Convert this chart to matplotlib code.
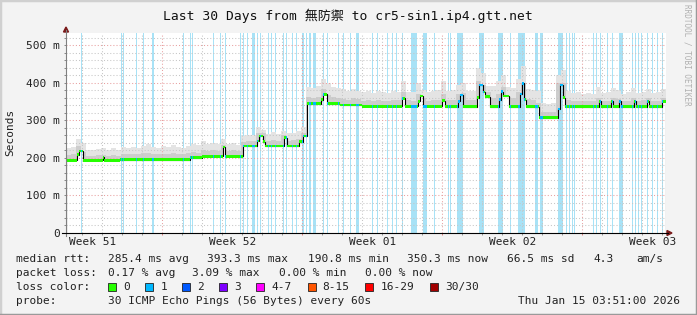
import numpy as np
import matplotlib
matplotlib.use("Agg")
import matplotlib.pyplot as plt
from matplotlib.patches import Polygon, Rectangle
from matplotlib.lines import Line2D
from matplotlib.transforms import blended_transform_factory

W, H = 697, 315
MONO = ["DejaVu Sans Mono", "Noto Sans CJK SC"]

# median rtt (ms), step levels starting at each day offset (0 = 30 days ago)
med_day = [0.0, 0.55, 0.65, 0.85, 1.835, 1.915, 2.7, 6.2, 6.785, 7.85, 7.95,
           8.835, 9.535, 9.65, 9.865, 9.95, 10.9, 11.035, 11.665, 11.825,
           12.025, 12.75, 12.85, 13.035, 13.7, 14.8, 16.785, 16.95, 17.6, 17.7,
           17.865, 18.785, 18.95, 19.6, 19.7, 19.85, 20.55, 20.65, 20.85, 20.95,
           21.2, 21.65, 21.75, 21.85, 22.125, 22.7, 22.775, 22.9, 23.0, 23.65,
           24.6, 24.7, 24.85, 24.95, 26.65, 26.75, 27.25, 27.35, 27.65, 27.75,
           28.4, 28.5, 29.05, 29.15, 29.8]
med_ms = [193, 208, 218, 193, 201, 193, 195.5, 200, 204, 229, 204,
          231, 245, 258, 243, 231, 254, 231, 243, 258,
          344, 355, 369, 344, 340, 337, 358, 337, 350, 364,
          337, 352, 336, 350, 367, 336, 360, 394, 375, 363,
          336, 355, 376, 364, 336, 370, 398, 355, 336, 307,
          330, 394, 360, 336, 350, 336, 350, 336, 350, 336,
          350, 336, 350, 336, 350]

# smoke (ms), one value per 6 hour bin
smoke_hi = [226, 228, 250, 240, 222, 220, 224, 225, 222, 226,
            222, 228, 225, 230, 227, 232, 238, 229, 226, 231,
            228, 233, 229, 227, 232, 236, 234, 245, 238, 240,
            237, 250, 236, 239, 235, 258, 262, 260, 283, 275,
            264, 268, 263, 272, 265, 267, 272, 282, 388, 385,
            390, 410, 398, 388, 386, 382, 378, 384, 379, 374,
            377, 372, 378, 375, 373, 379, 376, 405, 376, 374,
            398, 380, 374, 377, 380, 405, 378, 380, 395, 400,
            378, 377, 440, 425, 392, 390, 405, 420, 388, 386,
            410, 445, 383, 380, 378, 345, 343, 346, 420, 434,
            378, 372, 375, 370, 373, 371, 388, 372, 374, 386,
            380, 371, 374, 385, 372, 376, 384, 373, 375, 382]
smoke_mid = [208, 210, 232, 215, 206, 205, 207, 208, 206, 208,
             206, 210, 209, 211, 210, 212, 214, 210, 209, 211,
             210, 212, 210, 209, 212, 215, 214, 222, 219, 220,
             219, 235, 219, 220, 218, 243, 245, 244, 265, 265,
             246, 248, 245, 262, 246, 247, 251, 266, 362, 360,
             363, 382, 368, 362, 360, 357, 355, 358, 356, 352,
             353, 351, 354, 352, 351, 354, 353, 375, 353, 352,
             370, 360, 352, 353, 355, 370, 354, 355, 370, 372,
             354, 353, 405, 395, 375, 360, 370, 388, 362, 358,
             375, 400, 357, 355, 345, 322, 321, 322, 398, 400,
             354, 351, 352, 350, 351, 350, 360, 351, 352, 360,
             356, 350, 352, 360, 351, 353, 359, 351, 352, 360]

# days with packet loss (start, length in days)
loss_day = [0.725, 2.725, 2.825, 3.5, 3.825, 4.275, 5.825, 6.175, 6.275, 7.325,
            7.675, 7.95, 8.675, 8.85, 9.025, 9.275, 9.525, 9.675, 10.075, 10.25,
            10.45, 10.825, 11.0, 11.3, 11.5, 11.8, 12.0, 12.165, 12.365, 12.835,
            13.065, 13.615, 13.835, 14.2, 14.5, 15.285, 15.565, 16.035, 16.285, 16.5,
            16.785, 17.235, 17.835, 18.4, 19.115, 19.2, 19.535, 20.665, 21.615, 22.2,
            22.615, 23.45, 23.7, 24.615, 24.985, 25.165, 25.285, 25.4, 26.335, 26.5,
            26.7, 27.065, 27.285, 27.665, 28.285, 28.45, 28.615, 28.75, 29.065, 29.285,
            29.535, 29.785]
loss_len = [0.05, 0.05, 0.05, 0.05, 0.05, 0.1, 0.05, 0.05, 0.05, 0.05,
            0.05, 0.05, 0.05, 0.05, 0.05, 0.15, 0.05, 0.05, 0.05, 0.05,
            0.05, 0.05, 0.05, 0.05, 0.05, 0.1, 0.05, 0.075, 0.15, 0.05,
            0.05, 0.05, 0.05, 0.05, 0.15, 0.05, 0.05, 0.05, 0.05, 0.05,
            0.05, 0.3, 0.225, 0.05, 0.05, 0.05, 0.3, 0.235, 0.225, 0.05,
            0.325, 0.165, 0.135, 0.25, 0.05, 0.05, 0.05, 0.05, 0.05, 0.05,
            0.05, 0.05, 0.05, 0.2, 0.05, 0.05, 0.05, 0.05, 0.05, 0.05,
            0.05, 0.085]

week_labels = ["Week 51", "Week 52", "Week 01", "Week 02", "Week 03"]
week_label_day = [1.315, 8.315, 15.315, 22.315, 29.315]
week_start_day = [4.8, 11.8, 18.8, 25.8]

rtt_stats = ["285.4 ms avg", "393.3 ms max", "190.8 ms min", "350.3 ms now", "66.5 ms sd", "4.3", "am/s"]
loss_stats = ["0.17 % avg", "3.09 % max", "0.00 % min", "0.00 % now"]
loss_names = ["0", "1", "2", "3", "4-7", "8-15", "16-29", "30/30"]
loss_colors = ["#26ff00", "#00b8ff", "#0059ff", "#7e00ff", "#ff00ff", "#ff5500", "#ff0000", "#a10000"]

YMAX = 532
LOSS_BG = "#a8e2f6"


def fx(x):
    return x / W


def fy(y):
    return 1 - y / H


def med_at(t):
    i = np.searchsorted(med_day, t, side="right") - 1
    return np.asarray(med_ms, dtype=float)[i]


def med_pieces(a, b):
    e = np.array(med_day + [30.0])
    e = np.union1d([a, b], e[(e > a) & (e < b)])
    m = (e[:-1] + e[1:]) / 2
    return e, med_at(m)


fig = plt.figure(figsize=(W / 100, H / 100), dpi=100, facecolor="#f3f3f3")
ax = fig.add_axes([fx(66), fy(233), 600 / W, 200 / H])
ax.set_facecolor("white")
ax.set_xlim(0, 30)
ax.set_ylim(0, YMAX)
for s in ax.spines.values():
    s.set_visible(False)

# loss background
ax.bar(loss_day, YMAX, width=loss_len, align="edge", color=LOSS_BG, lw=0,
       antialiased=False, zorder=1)

# smoke
nb = len(smoke_hi)
edges = np.union1d(np.arange(nb + 1) * 0.25, med_day + [30.0])
mids = (edges[:-1] + edges[1:]) / 2
lo = med_at(mids) - 2
bi = np.minimum((mids / 0.25).astype(int), nb - 1)
hi = np.maximum(np.asarray(smoke_hi, float)[bi], lo)
md = np.maximum(np.asarray(smoke_mid, float)[bi], lo)
ax.stairs(hi, edges, baseline=lo, fill=True, color="#e4e4e4", lw=0, zorder=1.2)
ax.stairs(md, edges, baseline=lo, fill=True, color="#cdcdcd", lw=0, zorder=1.4)

# grid
ax.set_yticks(range(0, 501, 100))
ax.set_yticks([v for v in range(20, YMAX, 20) if v % 100], minor=True)
ax.set_yticklabels(["0"] + ["%d m" % v for v in range(100, 501, 100)],
                   family="DejaVu Sans Mono", fontsize=8, color="#222222")
ax.set_xticks(week_start_day)
ax.set_xticks(np.arange(0.8, 30, 1.0), minor=True)
ax.set_xticklabels([])
ax.tick_params(which="both", length=1.5, width=0.7, pad=3)
ax.tick_params(axis="y", which="both", colors="#888888", labelcolor="#222222")
ax.tick_params(axis="x", which="major", colors="#e08080")
ax.tick_params(axis="x", which="minor", colors="#999999")
ax.set_axisbelow(False)
ax.grid(which="minor", color="#c6c6c6", lw=0.75, ls=(0, (1, 2)))
ax.grid(which="major", color="#e8a0a0", lw=0.75, ls=(0, (1, 2)))

# median line, coloured by loss
med_edges = np.array(med_day + [30.0])
med = np.asarray(med_ms, float)
ax.stairs(med, med_edges, color="black", lw=0.8, zorder=5)
ax.stairs(med + 3.5, med_edges, baseline=med - 3.5, fill=True, color=loss_colors[0], lw=0, zorder=6)
for a, w in zip(loss_day, loss_len):
    e, v = med_pieces(a, a + w)
    ax.stairs(v + 3.5, e, baseline=v - 3.5, fill=True, color=loss_colors[1], lw=0, zorder=7)

trans = blended_transform_factory(ax.transData, ax.transAxes)
for d, lab in zip(week_label_day, week_labels):
    ax.text(d, -0.045, lab, transform=trans, ha="center", va="center",
            family="DejaVu Sans Mono", fontsize=8, color="#222222")

# axes lines and arrows
arrow_c = "#7a1a1a"
fig.add_artist(Line2D([fx(66), fx(66)], [fy(236), fy(30)], color="#808080", lw=0.8))
fig.add_artist(Line2D([fx(62), fx(668)], [fy(233), fy(233)], color="black", lw=0.8))
fig.add_artist(Polygon([(fx(63.5), fy(32)), (fx(68.5), fy(32)), (fx(66), fy(27))],
                       closed=True, color=arrow_c, transform=fig.transFigure))
fig.add_artist(Polygon([(fx(667), fy(230.5)), (fx(667), fy(235.5)), (fx(672), fy(233))],
                       closed=True, color=arrow_c, transform=fig.transFigure))

# frame
fig.add_artist(Line2D([0, 0, 1], [0, 1, 1], color="#d0d0d0", lw=2.5))
fig.add_artist(Line2D([0, 1, 1], [0, 0, 1], color="#9a9a9a", lw=2.5))

# title, labels
fig.text(fx(348), fy(16), "Last 30 Days from 無防禦 to cr5-sin1.ip4.gtt.net",
         ha="center", va="center", family=MONO, fontsize=9.4, color="#111111")
fig.text(fx(10), fy(132), "Seconds", rotation=90, ha="center", va="center",
         family="DejaVu Sans Mono", fontsize=8, color="#222222")
fig.text(fx(687), fy(4), "RRDTOOL / TOBI OETIKER", rotation=270, ha="center", va="top",
         family="DejaVu Sans Mono", fontsize=5.5, color="#b0b0b0")

# legend
tk = dict(family="DejaVu Sans Mono", fontsize=8, color="#222222", va="center")
rows = [259, 273, 287, 301]
fig.text(fx(16), fy(rows[0]), "median rtt:", **tk)
for s, x in zip(rtt_stats, [107.6, 207, 307.6, 407, 507, 593, 636]):
    fig.text(fx(x), fy(rows[0]), s, **tk)
fig.text(fx(16), fy(rows[1]), "packet loss:", **tk)
for s, x in zip(loss_stats, [107.6, 192.4, 279, 365.3]):
    fig.text(fx(x), fy(rows[1]), s, **tk)
fig.text(fx(16), fy(rows[2]), "loss color:", **tk)
for s, c, x in zip(loss_names, loss_colors, [108, 145.3, 182.2, 219, 256.4, 307.6, 365.3, 429.8]):
    fig.add_artist(Rectangle((fx(x), fy(rows[2] + 4)), 8 / W, 8 / H, facecolor=c,
                             edgecolor="#222222", lw=0.6, transform=fig.transFigure))
    fig.text(fx(x + 15), fy(rows[2]), s, **tk)
fig.text(fx(16), fy(rows[3]), "probe:", **tk)
fig.text(fx(107.6), fy(rows[3]), "30 ICMP Echo Pings (56 Bytes) every 60s", **tk)
fig.text(fx(680), fy(rows[3]), "Thu Jan 15 03:51:00 2026", ha="right", **tk)

fig.savefig("out.png", dpi=100, facecolor=fig.get_facecolor())
